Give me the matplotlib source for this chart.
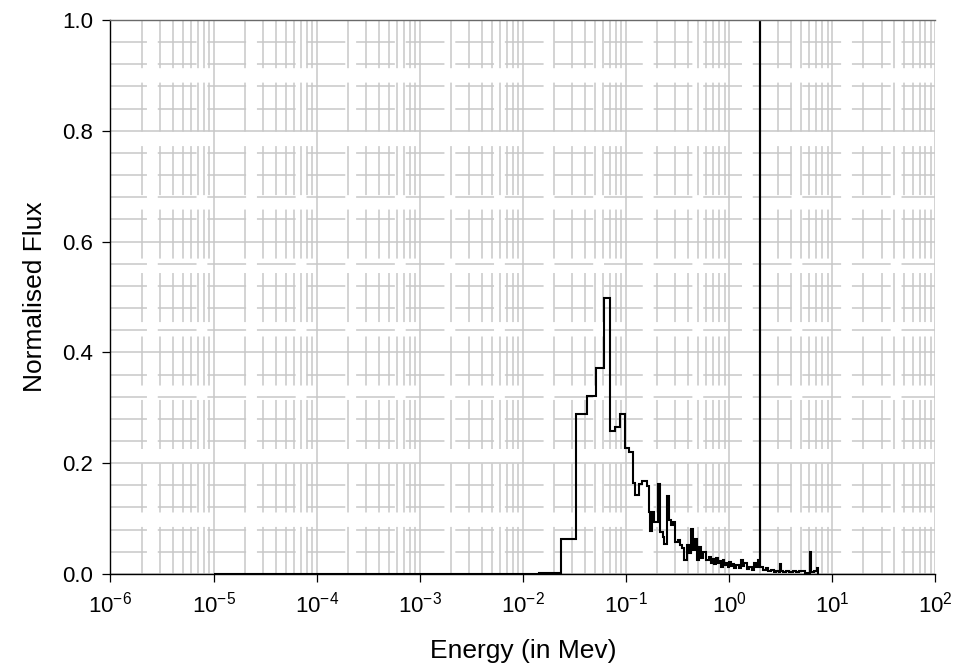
"""Normalised flux spectrum vs energy, step plot on a log energy axis."""
import matplotlib
matplotlib.use("Agg")
import matplotlib.pyplot as plt
from matplotlib.ticker import (FixedLocator, LogLocator, MultipleLocator,
                               NullFormatter, FormatStrFormatter)

plt.rcParams["font.family"] = ["Liberation Sans", "DejaVu Sans"]
plt.rcParams["lines.scale_dashes"] = False

# bin edges in MeV
edges = [1e-5, 0.01439, 0.02336, 0.03266, 0.04176, 0.05105, 0.06049, 0.06918,
         0.07803, 0.08726, 0.09669, 0.1057, 0.1156, 0.1228, 0.1343, 0.1426,
         0.1580, 0.1653, 0.1705, 0.1783, 0.1877, 0.2020, 0.2132, 0.2259,
         0.2347, 0.2470, 0.2583, 0.2725, 0.2869, 0.3000, 0.3158, 0.3332,
         0.3484, 0.3668, 0.3861, 0.4038, 0.4261, 0.4416, 0.4617, 0.4828,
         0.5048, 0.5326, 0.5607, 0.5957, 0.6412,
         0.665, 0.6902, 0.716, 0.7447, 0.772, 0.8017, 0.832, 0.8630, 0.897,
         0.9311, 0.965, 1.00, 1.04, 1.079, 1.12, 1.164, 1.23, 1.302, 1.35,
         1.401, 1.48, 1.567, 1.66, 1.752, 1.82, 1.886, 1.94, 2.00,
         2.01, 2.14, 2.275, 2.40, 2.544, 2.70, 2.844, 3.013, 3.10, 3.180,
         3.35, 3.555, 3.80, 4.120, 4.45, 4.786, 5.40, 6.077, 6.16, 6.60,
         7.043, 7.20]

# normalised flux per bin
flux = [0.0, 0.0024, 0.063, 0.289, 0.321, 0.372, 0.499, 0.258, 0.266, 0.289,
        0.227, 0.221, 0.164, 0.143, 0.162, 0.167, 0.158, 0.112, 0.078, 0.112,
        0.094, 0.162, 0.076, 0.067, 0.055, 0.141, 0.097, 0.088, 0.094, 0.058,
        0.061, 0.052, 0.046, 0.025, 0.052, 0.037, 0.081, 0.043, 0.064, 0.025,
        0.049, 0.028, 0.040, 0.025,
        0.031, 0.020, 0.027, 0.018, 0.028, 0.020, 0.024, 0.013, 0.025, 0.016,
        0.020, 0.012, 0.022, 0.014, 0.018, 0.010, 0.016, 0.011, 0.026, 0.014,
        0.019, 0.009, 0.013, 0.008, 0.020, 0.012, 0.026, 0.016,
        1.0,
        0.013, 0.007, 0.010, 0.005, 0.008, 0.004, 0.006, 0.004, 0.018, 0.006,
        0.003, 0.006, 0.003, 0.006, 0.003, 0.005, 0.002, 0.040, 0.003, 0.005,
        0.010]

x_decades = [1e-6, 1e-5, 1e-4, 1e-3, 1e-2, 1e-1, 1e0, 1e1, 1e2]

GRID = "#c8c8c8"

fig = plt.figure(figsize=(9.58, 6.71), dpi=100)
ax = fig.add_axes([0.1153, 0.1446, 0.8612, 0.8256])

ax.stairs(flux, edges, color="black", lw=1.5, baseline=0)

ax.set_xscale("log")
ax.set_xlim(x_decades[0], x_decades[-1])
ax.set_ylim(0, 1.0)

ax.xaxis.set_major_locator(FixedLocator(x_decades))
ax.xaxis.set_minor_locator(LogLocator(base=10, subs=range(2, 10), numticks=20))
ax.xaxis.set_minor_formatter(NullFormatter())
ax.yaxis.set_major_locator(MultipleLocator(0.2))
ax.yaxis.set_minor_locator(MultipleLocator(0.04))
ax.yaxis.set_major_formatter(FormatStrFormatter("%.1f"))

# SigmaPlot-style grid: solid majors, long-dash minors
ax.grid(which="major", axis="both", color=GRID, lw=1.1, ls="-")
ax.grid(which="minor", axis="x", color=GRID, lw=1.1, ls=(1.4, (35.3, 10.4)))
ax.grid(which="minor", axis="y", color=GRID, lw=1.1, ls=(1.3, (27.9, 7.8)))
ax.set_axisbelow(True)

ax.tick_params(which="major", direction="out", length=5.5, width=0.9,
               labelsize=16, color="black", pad=7)
ax.tick_params(which="minor", length=0)

for side in ("left", "bottom"):
    ax.spines[side].set_color("black")
    ax.spines[side].set_linewidth(1.0)
ax.spines["top"].set_color("#6a6a6a")
ax.spines["top"].set_linewidth(1.0)
ax.spines["right"].set_visible(False)

ax.set_xlabel("Energy (in Mev)", fontsize=19, labelpad=16)
ax.set_ylabel("Normalised Flux", fontsize=19, labelpad=11)

fig.savefig("out.png", dpi=100)
